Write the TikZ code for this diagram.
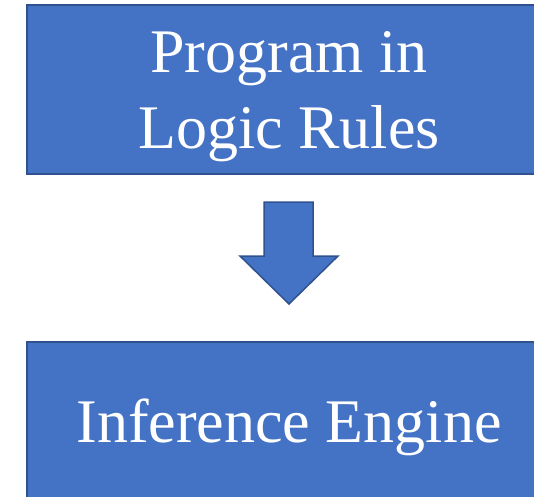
\documentclass[tikz,border=0pt]{standalone}
\usepackage{fontspec}
\setmainfont{Liberation Serif}
\usetikzlibrary{positioning,calc}
\definecolor{boxfill}{HTML}{4472C4}
\definecolor{boxline}{HTML}{2F528F}

\tikzset{
  flowbox/.style={draw=boxline,fill=boxfill,line width=1.5pt,
    minimum width=524pt,minimum height=169pt,inner sep=0pt},
  boxtext/.style={text=white,align=center,inner sep=0pt,
    font=\fontsize{62}{76}\selectfont},
  blockarrow/.style={draw=boxline,fill=boxfill,line width=1.5pt,line join=miter}
}

\begin{document}
\begin{tikzpicture}[x=1pt,y=-1pt]
\useasboundingbox (0,0) rectangle (534,496);
\node[flowbox] (prog) at (289,89.5) {};
\node[flowbox] (engine) at (289,426.5) {};
\node[boxtext] (progtext) at ([yshift=-7pt]prog.center) {Program in\\Logic Rules};
\node[boxtext] (enginetext) at ([yshift=-1pt]engine.center) {Inference Engine};
% down arrow between the two boxes
\draw[blockarrow] (264,202) -- (313,202) -- (313,256) -- (338,256) -- (289,304)
  -- (240,256) -- (264,256) -- cycle;
\end{tikzpicture}
\end{document}
